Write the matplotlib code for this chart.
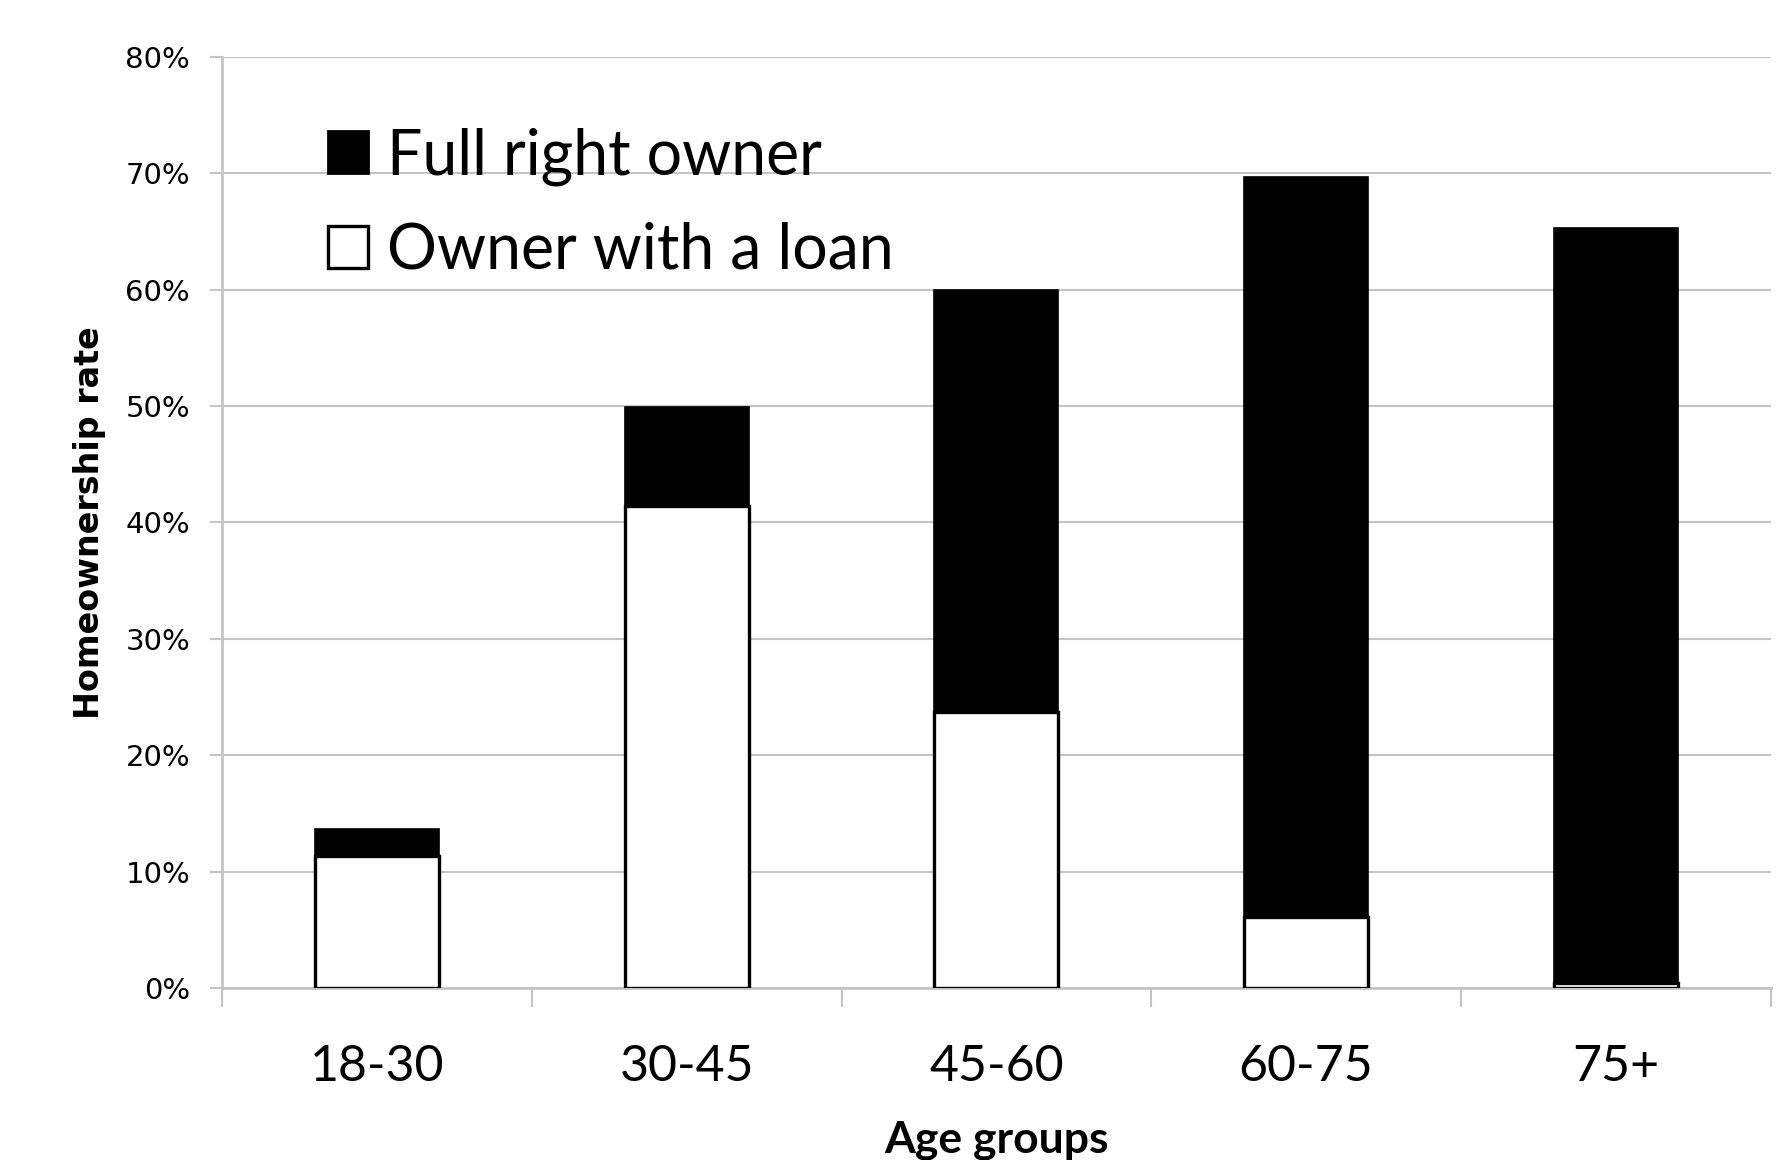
import numpy as np
import matplotlib

matplotlib.use("Agg")
import matplotlib.pyplot as plt
from matplotlib.patches import Patch
from matplotlib.ticker import FixedLocator, PercentFormatter

# homeownership rate by age group, split by tenure type (%)
AGE_GROUPS = ["18-30", "30-45", "45-60", "60-75", "75+"]
WITH_LOAN = [11.3, 41.4, 23.7, 6.1, 0.4]
FULL_RIGHT = [2.4, 8.5, 36.3, 63.6, 64.9]
Y_TICKS = [0, 10, 20, 30, 40, 50, 60, 70, 80]

GRID = "#c4c4c4"

fig = plt.figure(figsize=(17.85, 11.6), dpi=100)
ax = fig.add_axes([0.1244, 0.1483, 0.8676, 0.8026])

x = np.arange(len(AGE_GROUPS))
loan = np.array(WITH_LOAN)
full = np.array(FULL_RIGHT)

ax.bar(x, loan, width=0.40, color="white", edgecolor="black", linewidth=2.4, zorder=3)
ax.bar(x, full, bottom=loan, width=0.40, color="black", edgecolor="black", linewidth=1.2, zorder=3)

ax.set_xlim(-0.5, len(AGE_GROUPS) - 0.5)
ax.set_ylim(0, 80)
ax.yaxis.set_major_locator(FixedLocator(Y_TICKS))
ax.yaxis.set_major_formatter(PercentFormatter(decimals=0))
ax.grid(axis="y", color=GRID, linewidth=1.5, zorder=0)

# category labels on centres, tick marks on the boundaries
ax.set_xticks(x)
ax.set_xticklabels(AGE_GROUPS, fontsize=36, family=["Lato", "DejaVu Sans"])
ax.set_xticks(np.arange(-0.5, len(AGE_GROUPS)), minor=True)
ax.tick_params(axis="x", which="major", length=0, pad=40)
ax.tick_params(axis="x", which="minor", length=14, width=1.5, color=GRID, direction="out")
ax.tick_params(axis="y", length=9, width=1.5, color=GRID, pad=14, labelsize=21)

for side in ("top", "right"):
    ax.spines[side].set_visible(False)
for side in ("left", "bottom"):
    ax.spines[side].set_color(GRID)
    ax.spines[side].set_linewidth(2.0)

ax.set_ylabel("Homeownership rate", fontsize=24, fontweight="bold",
              family=["Liberation Sans Narrow", "DejaVu Sans"], labelpad=14)
ax.set_xlabel("Age groups", fontsize=32, fontweight="bold",
              family=["Lato", "DejaVu Sans"], labelpad=22)

handles = [
    Patch(facecolor="black", edgecolor="black", linewidth=2.0, label="Full right owner"),
    Patch(facecolor="white", edgecolor="black", linewidth=2.4, label="Owner with a loan"),
]
ax.legend(handles=handles, loc="upper left", bbox_to_anchor=(0.032, 0.985),
          frameon=False, prop={"family": ["Lato", "DejaVu Sans"], "size": 45},
          handlelength=0.65, handleheight=0.65, handletextpad=0.3, labelspacing=0.58)

fig.savefig("out.png", dpi=100)
